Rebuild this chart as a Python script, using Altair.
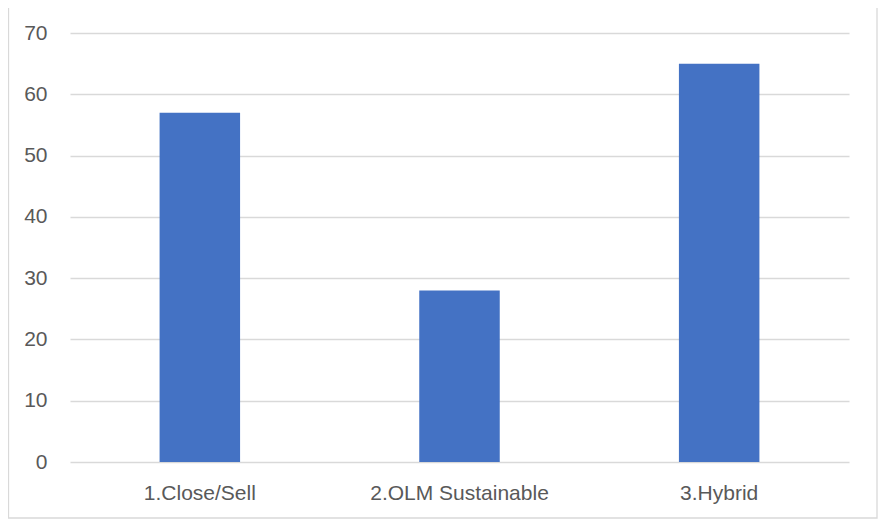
import altair as alt
import pandas as pd

categories = ["1.Close/Sell", "2.OLM Sustainable", "3.Hybrid"]
values = [57, 28, 65]
y_ticks = [0, 10, 20, 30, 40, 50, 60, 70]

df = pd.DataFrame({"category": categories, "value": values})

FONT = "Liberation Sans"

bars = alt.Chart(df).mark_bar(color="#4472C4").encode(
    x=alt.X(
        "category:N",
        sort=categories,
        scale=alt.Scale(paddingInner=0.69, paddingOuter=0.345),
        axis=alt.Axis(
            title=None, labelAngle=0, domain=False, ticks=False,
            labelFont=FONT, labelFontSize=21, labelColor="#595959",
            labelPadding=20,
        ),
    ),
    y=alt.Y(
        "value:Q",
        scale=alt.Scale(domain=[0, 70], nice=False),
        axis=alt.Axis(
            title=None, values=y_ticks, domain=False, ticks=False,
            grid=True, gridColor="#d9d9d9", gridWidth=1.3,
            labelFont=FONT, labelFontSize=21, labelColor="#595959",
            labelPadding=23,
        ),
    ),
)

border_df = pd.DataFrame({"a": [0]})
border = alt.Chart(border_df).mark_rect(
    fill=None, stroke="#d9d9d9", strokeWidth=1.3, clip=False
).encode(
    x=alt.value(-61.5),
    x2=alt.value(807),
    y=alt.value(-60),
    y2=alt.value(485),
)

chart = alt.layer(border, bars).properties(
    width=779,
    height=429,
    autosize=alt.AutoSizeParams(type="none"),
    padding={"left": 62, "top": 25, "right": 29, "bottom": 57},
).configure_view(stroke=None)

chart.save("out.html", embed_options={"renderer": "svg", "actions": False})
